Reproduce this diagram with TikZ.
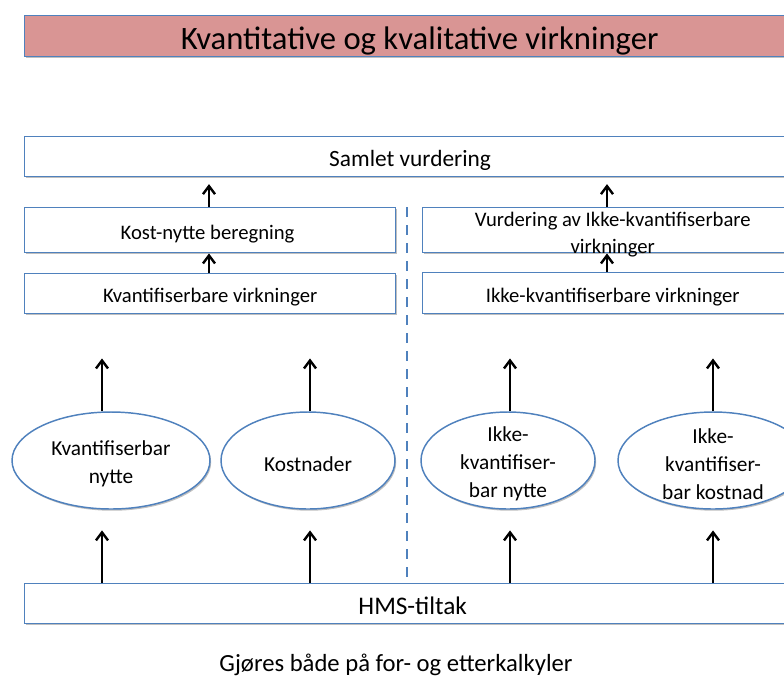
\documentclass[tikz,border=0pt]{standalone}
\usepackage{fontspec}
\setmainfont{Carlito}
\usetikzlibrary{arrows.meta,shapes.geometric,shadows}
\definecolor{bord}{HTML}{4F81BD}
\definecolor{titlefill}{HTML}{D99594}
\begin{document}
\begin{tikzpicture}[x=0.75pt,y=-0.75pt,
  shd/.style={drop shadow={shadow xshift=0.9pt,shadow yshift=-1.3pt,fill=black,opacity=0.25}},
  box/.style={draw=bord,line width=1.1pt,fill=white,rectangle,inner sep=0pt,anchor=north west,shd},
  ell/.style={draw=bord,line width=1.1pt,fill=white,ellipse,inner sep=0pt,shd},
  arr/.style={line width=1.8pt,-{Straight Barb[length=6pt,width=9pt]}},
  lbl/.style={font=\fontsize{15.5}{20}\selectfont,align=center,inner sep=0pt,yshift=-2.6pt},
  etxt/.style={lbl,font=\fontsize{16}{21}\selectfont}]
\useasboundingbox (0,0) rectangle (784,679);
\clip (0,0) rectangle (784,679);
% title
\node[box,fill=titlefill,minimum width=592.5pt,minimum height=30.75pt] (title) at (24,15) {};
\node[lbl,font=\fontsize{24.5}{26}\selectfont,yshift=-1pt] (titletxt) at (title.center) {Kvantitative og kvalitative virkninger};
% upper boxes
\node[box,minimum width=582pt,minimum height=30pt] (samlet) at (24,136) {};
\node[lbl,font=\fontsize{17.5}{20}\selectfont,xshift=-2pt] (samlettxt) at (samlet.center) {Samlet vurdering};
\node[box,minimum width=278.25pt,minimum height=33.75pt] (kost) at (24,207) {};
\node[lbl,xshift=-2pt] (kosttxt) at (kost.center) {Kost-nytte beregning};
\node[box,minimum width=278.25pt,minimum height=30pt] (kvant) at (24,273) {};
\node[lbl] (kvanttxt) at (kvant.center) {Kvantifiserbare virkninger};
\node[box,minimum width=285pt,minimum height=33.75pt] (vurd) at (422,207) {};
\node[lbl,font=\fontsize{15.5}{20.5}\selectfont,yshift=-0.8pt] (vurdtxt) at (vurd.center) {Vurdering av Ikke-kvantifiserbare\\virkninger};
\node[box,minimum width=285pt,minimum height=30.75pt] (ikke) at (422,272) {};
\node[lbl] (ikketxt) at (ikke.center) {Ikke-kvantifiserbare virkninger};
% ellipses
\node[ell,minimum width=148.5pt,minimum height=72.75pt] (e1) at (111,460.5) {};
\node[etxt] (e1txt) at (e1.center) {Kvantifiserbar\\nytte};
\node[ell,minimum width=130.5pt,minimum height=72.75pt] (e2) at (308,460.5) {};
\node[etxt] (e2txt) at (e2.center) {Kostnader};
\node[ell,minimum width=130.5pt,minimum height=72.75pt] (e3) at (508,460.5) {};
\node[etxt] (e3txt) at (e3.center) {Ikke-\\kvantifiser-\\bar nytte};
\node[ell,minimum width=142.5pt,minimum height=72.75pt] (e4) at (713,460.5) {};
\node[etxt] (e4txt) at (e4.center) {Ikke-\\kvantifiser-\\bar kostnad};
% bottom box
\node[box,minimum width=582pt,minimum height=30pt] (hms) at (24,583) {};
\node[lbl,font=\fontsize{19}{22}\selectfont,yshift=1pt] (hmstxt) at (hms.center) {HMS-tiltak};
\node[lbl,font=\fontsize{18.5}{22}\selectfont,yshift=2.6pt] (note) at (396,665) {Gjøres både på for- og etterkalkyler};
% dashed divider
\coordinate (dtop) at (407,207);
\coordinate (dbot) at (407,583);
\draw[bord,line width=1.6pt,dash pattern=on 7.5pt off 6pt] (dtop) -- (dbot);
% arrow columns
\coordinate (c1) at (102,0);
\coordinate (c2) at (310,0);
\coordinate (c3) at (510,0);
\coordinate (c4) at (713,0);
\coordinate (cl) at (209,0);
\coordinate (cr) at (607,0);
\draw[arr,shorten >=5pt] (kost.north -| cl) -- (samlet.south -| cl);
\draw[arr] (kvant.north -| cl) -- (kost.south -| cl);
\draw[arr,shorten >=5pt] (vurd.north -| cr) -- (samlet.south -| cr);
\draw[arr] (ikke.north -| cr) -- (vurd.south -| cr);
\draw[arr,shorten >=33pt] (e1.north -| c1) -- (kvant.south -| c1);
\draw[arr,shorten >=33pt] (e2.north -| c2) -- (kvant.south -| c2);
\draw[arr,shorten >=33pt] (e3.north -| c3) -- (ikke.south -| c3);
\draw[arr,shorten >=33pt] (e4.north -| c4) -- (ikke.south -| c4);
\draw[arr,shorten >=15.5pt] (hms.north -| c1) -- (e1.south -| c1);
\draw[arr,shorten >=15.5pt] (hms.north -| c2) -- (e2.south -| c2);
\draw[arr,shorten >=15.5pt] (hms.north -| c3) -- (e3.south -| c3);
\draw[arr,shorten >=15.5pt] (hms.north -| c4) -- (e4.south -| c4);
\end{tikzpicture}
\end{document}
